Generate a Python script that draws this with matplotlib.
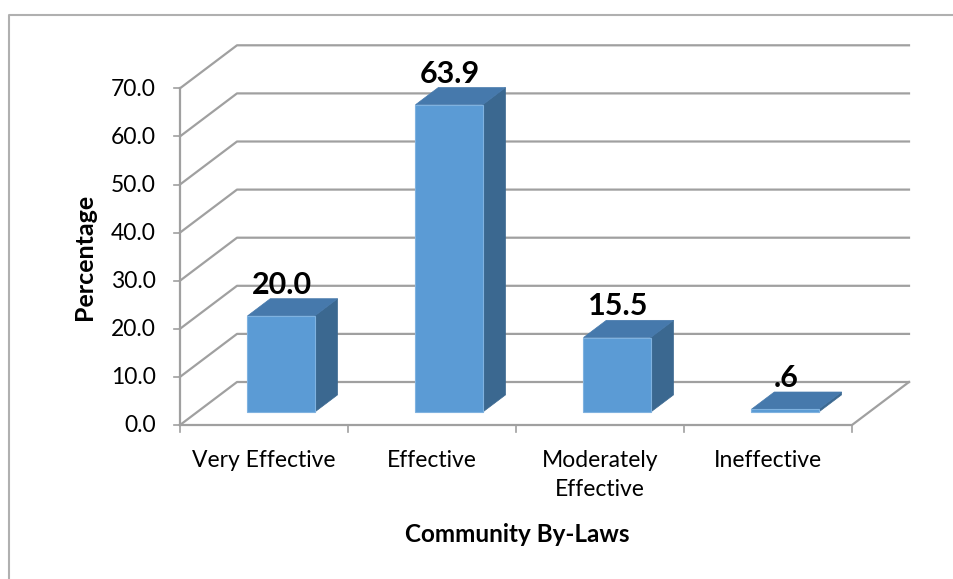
import matplotlib.pyplot as plt
from matplotlib.patches import Polygon

plt.rcParams['font.family'] = ['Lato', 'DejaVu Sans']

categories = ['Very Effective', 'Effective', 'Moderately\nEffective', 'Ineffective']
values = [20.0, 63.9, 15.5, 0.6]
labels = ['20.0', '63.9', '15.5', '.6']
yticks = [0, 10, 20, 30, 40, 50, 60, 70]

# pseudo-3D layout in pixels
x0, y0 = 180, 425          # front origin of the value axis
cat_w = 168                # width of one category slot
px_per_unit = 4.81         # pixels per percentage point
depth_dx, depth_dy = 57, 43  # offset of the back wall
z_front, z_back = 0.3, 0.7   # bar depth range (0 = front, 1 = back wall)
bar_frac = 0.4


def proj(x, y, z):
    return (x0 + x * cat_w + z * depth_dx,
            y0 - y * px_per_unit - z * depth_dy)


fig = plt.figure(figsize=(9.54, 5.79), dpi=100)
ax = fig.add_axes([0, 0, 1, 1])
ax.set_xlim(0, 954)
ax.set_ylim(579, 0)
ax.axis('off')

# chart area border (left and top only are visible)
ax.plot([9, 9, 954], [579, 15, 15], color='#B0B0B0', lw=1.5, zorder=1)

grid_c = '#A0A0A0'
n = len(categories)
for t in yticks:
    fx, fy = proj(0, t, 0)
    bx, by = proj(0, t, 1)
    ex, ey = proj(n, t, 1)
    ax.plot([fx, bx, ex], [fy, by, ey], color=grid_c, lw=1.6, zorder=2)
    ax.plot([fx - 6, fx], [fy, fy], color=grid_c, lw=1.2, zorder=2)
    ax.text(fx - 24, fy + 1, f'{t:.1f}', ha='right', va='center', fontsize=16.5, color='black')

# value axis and floor
ax.plot(*zip(proj(0, 0, 0), proj(0, yticks[-1], 0)), color=grid_c, lw=1.6, zorder=2)
ax.plot(*zip(proj(0, 0, 0), proj(n, 0, 0), proj(n, 0, 1)), color=grid_c, lw=1.6, zorder=2)
for i in range(n + 1):
    tx, ty = proj(i, 0, 0)
    ax.plot([tx, tx], [ty, ty + 7], color=grid_c, lw=1.2, zorder=2)

front_c, top_c, side_c = '#5B9BD5', '#4679AC', '#3B6890'
for i, (v, lab, cat) in enumerate(zip(values, labels, categories)):
    xl = i + 0.5 - bar_frac / 2
    xr = i + 0.5 + bar_frac / 2
    front = [proj(xl, 0, z_front), proj(xr, 0, z_front), proj(xr, v, z_front), proj(xl, v, z_front)]
    top = [proj(xl, v, z_front), proj(xr, v, z_front), proj(xr, v, z_back), proj(xl, v, z_back)]
    side = [proj(xr, 0, z_front), proj(xr, 0, z_back), proj(xr, v, z_back), proj(xr, v, z_front)]
    ax.add_patch(Polygon(side, closed=True, fc=side_c, ec=side_c, lw=0.5, zorder=3))
    ax.add_patch(Polygon(top, closed=True, fc=top_c, ec=top_c, lw=0.5, zorder=3))
    ax.add_patch(Polygon(front, closed=True, fc=front_c, ec='#7FB2E0', lw=0.8, zorder=4))

    lx, ly = proj(i + 0.5, v, z_back)
    ax.text(lx - 22, ly - 14, lab, ha='center', va='center', fontsize=22,
            fontweight='bold', color='black', zorder=5)

    cx, cy = proj(i + 0.5, 0, 0)
    ax.text(cx, cy + 25, cat, ha='center', va='top', fontsize=16.5,
            color='black', linespacing=1.5)

ax.text(517, 535, 'Community By-Laws', ha='center', va='center',
        fontsize=17.5, fontweight='bold')
ax.text(85, 257, 'Percentage', ha='center', va='center', rotation=90,
        fontsize=18, fontweight='bold')

fig.savefig('out.png', dpi=100)
